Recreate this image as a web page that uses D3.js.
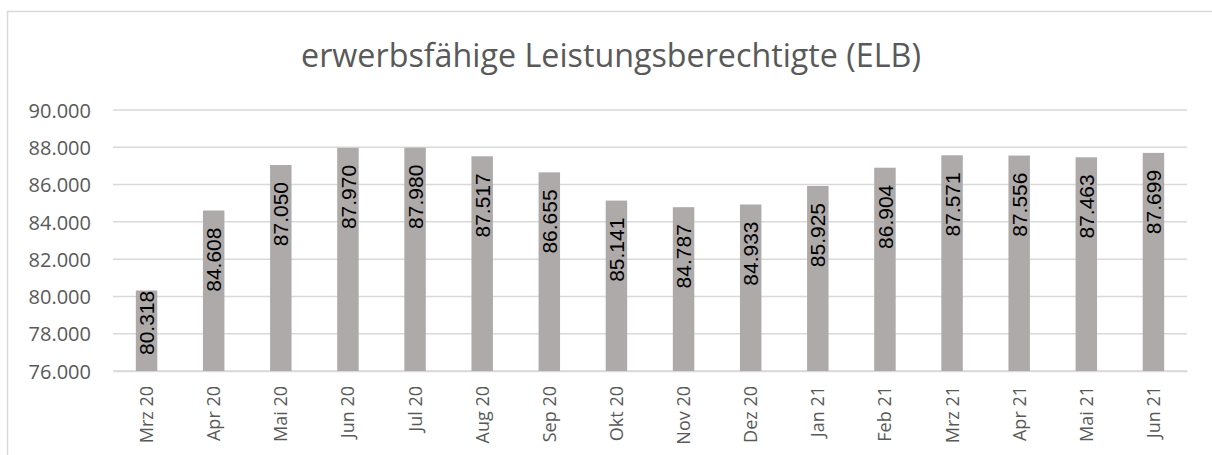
<!DOCTYPE html>
<html>
<head>
<meta charset="utf-8">
<script src="https://cdn.jsdelivr.net/npm/d3@7"></script>
<style>
  html, body { margin:0; padding:0; background:#fff; }
  svg { display:block; }
</style>
</head>
<body>
<svg id="chart" width="1212" height="455"></svg>
<script>
var titleText = 'erwerbsfähige Leistungsberechtigte (ELB)'
var months = ['Mrz 20', 'Apr 20', 'Mai 20', 'Jun 20', 'Jul 20', 'Aug 20', 'Sep 20', 'Okt 20',
              'Nov 20', 'Dez 20', 'Jan 21', 'Feb 21', 'Mrz 21', 'Apr 21', 'Mai 21', 'Jun 21']
var elb = [80318, 84608, 87050, 87970, 87980, 87517, 86655, 85141,
           84787, 84933, 85925, 86904, 87571, 87556, 87463, 87699]
var yTicks = [76000, 78000, 80000, 82000, 84000, 86000, 88000, 90000]

var de = d3.formatLocale({ decimal:',', thousands:'.', grouping:[3], currency:['', ' €'] })
var fmt = de.format(',.0f')

var svg = d3.select('#chart')

// chart frame (cut off on the right and bottom like the screenshot)
svg.append('rect')
    .attr('x', 7.5).attr('y', 11.5)
    .attr('width', 1230).attr('height', 470)
    .attr('fill', '#fff')
    .attr('stroke', '#d9d9d9')
    .attr('stroke-width', 1.5)

var plot = { left:113, right:1187, top:110, bottom:371 }

var x = d3.scaleBand()
    .domain(months)
    .range([plot.left, plot.right])
    .paddingInner(0.68)
    .paddingOuter(0.34)

var y = d3.scaleLinear()
    .domain([76000, 90000])
    .range([plot.bottom, plot.top])

// gridlines
svg.append('g')
    .selectAll('line')
    .data(yTicks)
    .join('line')
        .attr('x1', plot.left)
        .attr('x2', plot.right)
        .attr('y1', d=> y(d))
        .attr('y2', d=> y(d))
        .attr('stroke', '#d9d9d9')
        .attr('stroke-width', 1.5)

// y axis labels
var yAxis = svg.append('g')
    .attr('transform', 'translate(91,0)')
    .call(d3.axisLeft(y).tickValues(yTicks).tickFormat(fmt).tickSize(0).tickPadding(0))
yAxis.select('.domain').remove()
yAxis.selectAll('text')
    .attr('fill', '#595959')
    .style('font-family', '"Open Sans", sans-serif')
    .style('font-size', '20px')
    .attr('dy', '0.36em')

// x axis labels
var xAxis = svg.append('g')
    .attr('transform', 'translate(0,' + plot.bottom + ')')
    .call(d3.axisBottom(x).tickSize(0).tickPadding(0))
xAxis.select('.domain')
    .attr('stroke', '#d9d9d9')
    .attr('stroke-width', 1.5)
xAxis.selectAll('text')
    .attr('fill', '#595959')
    .style('font-family', '"Open Sans", sans-serif')
    .style('font-size', '18px')
    .attr('text-anchor', 'end')
    .attr('transform', 'rotate(-90)')
    .attr('x', -15)
    .attr('y', 0)
    .attr('dy', '0.36em')

// bars
svg.append('g')
    .selectAll('rect')
    .data(elb)
    .join('rect')
        .attr('x', (d, i)=> x(months[i]))
        .attr('width', x.bandwidth())
        .attr('y', d=> y(d))
        .attr('height', d=> plot.bottom - y(d))
        .attr('fill', '#aeaaaa')

// value labels, inside end, rotated
var labels = svg.append('g')
    .selectAll('text')
    .data(elb)
    .join('text')
        .text(d=> fmt(d))
        .attr('fill', '#000')
        .style('font-family', '"Liberation Sans", Arial, sans-serif')
        .style('font-size', '21px')
        .attr('text-anchor', 'end')
        .attr('dy', '0.36em')

labels.each(function(d, i) {
    var len = this.getComputedTextLength()
    var top = Math.min(y(d) + 17, plot.bottom - 16 - len)
    var cx = x(months[i]) + x.bandwidth() / 2
    d3.select(this)
        .attr('transform', 'translate(' + cx + ',' + top + ') rotate(-90)')
})

// title, sized to the reference width
var title = svg.append('text')
    .text(titleText)
    .attr('x', 611)
    .attr('y', 67)
    .attr('text-anchor', 'middle')
    .attr('fill', '#595959')
    .style('font-family', '"Open Sans", sans-serif')
    .style('font-size', '30px')
var tw = title.node().getComputedTextLength()
title.style('font-size', (30 * 620 / tw) + 'px')
</script>
</body>
</html>
